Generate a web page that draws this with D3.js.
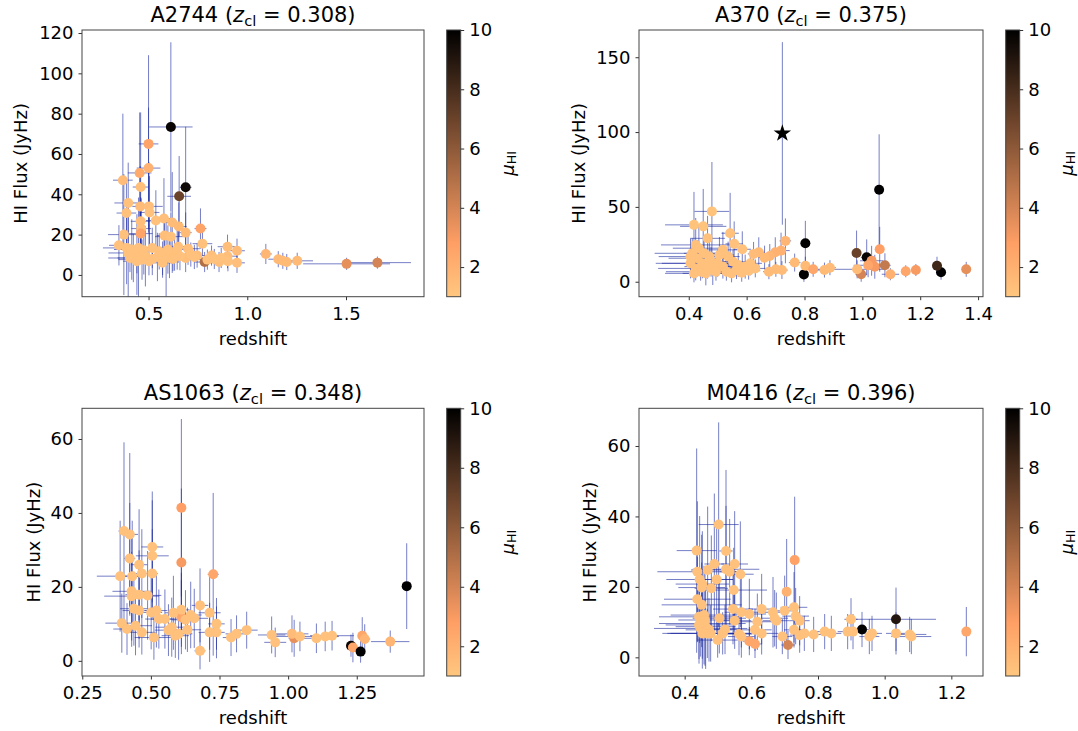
<!DOCTYPE html>
<html><head><meta charset="utf-8">
<script src="https://cdn.jsdelivr.net/npm/d3@7"></script>
<style>body{margin:0;background:#fff}svg{display:block}text{font-family:"DejaVu Sans",sans-serif;fill:#000}</style>
</head><body><svg id="c" width="1078" height="731"></svg>
<script>
const clusters = ["A2744", "A370", "AS1063", "M0416"];
const zCluster = ["0.308", "0.375", "0.348", "0.396"];
const xTicks = [[0.5, 1.0, 1.5], [0.4, 0.6, 0.8, 1.0, 1.2, 1.4], [0.25, 0.5, 0.75, 1.0, 1.25], [0.4, 0.6, 0.8, 1.0, 1.2]];
const xTickFormat = [".1f", ".1f", ".2f", ".1f"];
const yTicks = [[0, 20, 40, 60, 80, 100, 120], [0, 50, 100, 150], [0, 20, 40, 60], [0, 20, 40, 60]];
const xDomains = [[0.163, 1.895], [0.228, 1.417], [0.249, 1.495], [0.263, 1.295]];
const yDomains = [[-10.8, 121.5], [-10.0, 168.2], [-4.1, 68.3], [-5.3, 70.7]];
const muTicks = [2, 4, 6, 8, 10];
const muRange = [1, 10];
const xLabel = "redshift";
const yLabel = "HI Flux (JyHz)";

// rows: [redshift, flux, redshiftErr, fluxErr, mu_HI]
const a2744 = [
[0.613,73.4,0.11,42,9.8],[0.688,43.5,0.03,30,9.6],[0.655,39,0.06,20,7.0],[0.500,65,0.05,44,2.6],
[0.500,53,0.06,30,2.0],[0.455,50.6,0.06,30,2.3],[0.370,47,0.05,33,1.5],[0.460,43.6,0.04,37,1.4],
[0.397,35.7,0.07,20,1.3],[0.388,30.7,0.05,15,1.3],[0.458,34,0.04,20,1.5],[0.502,34,0.07,22,1.4],
[0.505,31,0.05,18,1.3],[0.537,27,0.05,15,1.3],[0.578,28,0.04,20,1.4],[0.620,26,0.05,25,1.5],
[0.653,24,0.04,12,1.6],[0.688,21,0.03,10,1.6],[0.763,23,0.03,10,2.6],[0.460,26.6,0.05,12,1.4],
[0.463,23,0.05,15,1.4],[0.375,20,0.08,30,1.3],[0.460,20.5,0.06,12,2.6],[0.350,14.7,0.05,10,1.3],
[0.581,19.5,0.04,10,1.4],[0.613,19,0.08,12,1.3],[0.650,14,0.05,8,1.4],[0.700,13,0.06,8,1.4],
[0.773,15.5,0.05,6,1.3],[0.900,14,0.05,6,1.4],[0.948,12,0.04,6,1.5],[1.094,10.4,0.03,5,1.8],
[1.157,7.8,0.05,4,1.6],[1.180,7,0.04,4,1.6],[1.200,6.4,0.03,4,1.6],[1.253,7,0.08,4,1.6],
[1.503,5.5,0.22,3,3.5],[1.659,6.1,0.17,3,4.0],[0.784,6.4,0.05,5,5.0],[0.819,9.6,0.04,5,1.4],
[0.857,6.4,0.04,5,1.4],[0.900,9.3,0.05,6,1.4],[0.948,6.0,0.04,5,1.4],[0.746,9.6,0.06,6,1.4],
[0.688,8.4,0.06,7,1.4],[0.397,10.9,0.1,25,1.3],[0.423,8.4,0.08,12,1.3],[0.441,10.1,0.06,20,1.3],
[0.467,7.6,0.12,10,1.3],[0.484,9.3,0.05,15,1.3],[0.519,7.9,0.07,8,1.3],[0.545,8.9,0.05,12,1.3],
[0.571,7.6,0.06,9,1.3],[0.589,9.3,0.04,20,1.3],[0.606,8.4,0.05,10,1.3],[0.632,10.1,0.06,8,1.3],
[0.645,12.6,0.04,10,1.3],[0.659,9.3,0.05,7,1.3],[0.389,13.4,0.12,18,1.3],[0.415,12.6,0.09,15,1.3],
[0.449,13.4,0.05,25,1.3],[0.476,12.2,0.08,12,1.3],[0.519,13.4,0.06,10,1.3],[0.554,11.7,0.05,9,1.3],
[0.598,12.6,0.05,12,1.3],[0.406,8.4,0.11,7,1.3],[0.441,6.8,0.07,6,1.3],[0.502,6.8,0.1,7,1.3],
[0.571,6.0,0.06,6,1.3],[0.624,7.9,0.05,6,1.3],[0.714,10.1,0.05,6,1.3],[0.732,8.9,0.04,6,1.3],
[0.798,7.6,0.05,5,1.3],[0.833,7.9,0.04,5,1.3],[0.868,8.4,0.04,5,1.3],[0.902,6.8,0.05,5,1.3]
];
const a370 = [
[1.058,61.5,0.005,37,10],[0.803,25.7,0.005,15,10],[0.798,4.9,0.005,5,10],[1.015,16.3,0.02,12,9.8],
[1.272,6.3,0.01,5,10],[1.258,10.7,0.01,6,8.2],[0.980,19.2,0.01,15,7.0],[1.060,21.7,0.005,15,2.8],
[1.078,11,0.02,8,4.5],[0.996,5,0.02,5,4.0],[1.032,14,0.04,10,3.0],[1.043,10,0.03,8,3.0],
[1.097,5,0.03,4,2.0],[1.150,7,0.01,4,2.5],[1.185,7.8,0.01,4,3.0],[1.359,8.3,0.005,5,3.5],
[0.982,8.3,0.1,6,1.5],[1.020,11,0.05,8,2.5],[0.766,12.8,0.02,6,1.6],[0.803,10.7,0.01,6,1.6],
[0.830,8.3,0.03,5,2.5],[0.869,7.8,0.03,5,1.6],[0.888,9.4,0.02,5,1.5],[0.734,27.3,0.02,15,1.8],
[0.719,20.8,0.03,12,2.0],[0.699,19.7,0.02,10,2.0],[0.680,17.2,0.02,8,1.8],[0.662,16.1,0.02,8,1.6],
[0.642,19.7,0.02,10,1.6],[0.624,18.6,0.02,8,1.5],[0.677,6.7,0.02,5,1.5],[0.701,8.3,0.02,5,1.5],
[0.722,7.8,0.02,6,1.5],[0.480,47,0.06,33,1.2],[0.418,38,0.1,22,1.2],[0.450,37,0.08,25,1.2],
[0.543,32.4,0.03,27,1.3],[0.557,25.3,0.03,15,1.3],[0.585,21.7,0.03,12,1.3],[0.518,21.3,0.05,12,1.3],
[0.465,29,0.06,15,1.3],[0.424,24.6,0.12,18,1.3],[0.412,19,0.13,10,1.3],[0.430,15.7,0.1,12,1.3],
[0.447,12.3,0.14,10,1.3],[0.465,10.1,0.08,8,1.3],[0.483,7.8,0.05,10,1.3],[0.500,12.3,0.06,9,1.3],
[0.518,10.1,0.05,8,1.3],[0.536,16.8,0.04,10,1.3],[0.553,13.4,0.05,8,1.3],[0.571,11.2,0.04,8,1.3],
[0.595,10.1,0.05,8,1.3],[0.613,12.3,0.04,8,1.3],[0.630,8.9,0.04,6,1.3],[0.424,8.9,0.13,8,1.3],
[0.441,6.7,0.12,6,1.3],[0.459,5.6,0.08,8,1.3],[0.477,13.4,0.07,10,1.3],[0.494,6.7,0.06,6,1.3],
[0.530,6.7,0.05,6,1.3],[0.548,5.6,0.04,6,1.3],[0.565,7.8,0.05,6,1.3],[0.583,6.0,0.04,6,1.3],
[0.607,7.4,0.04,6,1.3],[0.406,12.3,0.12,10,1.3],[0.418,5.6,0.1,6,1.3],[0.435,22.4,0.09,15,1.3],
[0.453,19.0,0.07,12,1.3],[0.471,16.8,0.06,10,1.3],[0.506,17.9,0.05,12,1.3],[0.406,16.8,0.11,12,1.3]
];
const a370Star = [[0.7235, 99.1, 0, 61, 10]];
const as1063 = [
[1.229,4.1,0.01,3,9.8],[1.236,3.6,0.01,4,2.5],[1.264,2.5,0.01,3,10],[1.270,6.8,0.01,5,2.5],
[1.279,5.9,0.02,4,1.8],[1.372,5.2,0.07,3,1.8],[1.432,20.2,0.005,11.6,10],[0.611,41.4,0.005,24,2.8],
[0.611,26.6,0.005,20,3.0],[0.727,23.4,0.02,22,2.5],[0.611,11.8,0.01,10,2.5],[1.022,6.1,0.02,5,3.5],
[0.402,35.1,0.02,24,1.3],[0.423,34.2,0.03,22,1.3],[0.423,27.7,0.02,15,1.3],[0.388,22.9,0.085,15,1.3],
[0.432,22.9,0.03,15,1.3],[0.457,26,0.03,15,1.3],[0.467,23.6,0.03,12,1.3],[0.505,30.8,0.04,15,1.3],
[0.505,28.4,0.06,15,1.3],[0.505,23.6,0.02,12,1.3],[0.430,18.8,0.07,15,1.3],[0.457,17.9,0.05,12,1.3],
[0.488,17.7,0.05,12,1.3],[0.430,17.5,0.1,12,1.3],[0.438,14.1,0.05,10,1.3],[0.457,13.6,0.06,10,1.3],
[0.501,13.1,0.04,10,1.3],[0.520,13.6,0.04,10,1.3],[0.582,13.0,0.03,10,1.3],[0.611,13.8,0.03,10,1.3],
[0.679,15.0,0.03,10,1.3],[0.714,13.0,0.04,10,1.3],[0.645,12.4,0.04,9,1.3],[0.658,11.5,0.05,8,1.3],
[0.529,11.3,0.05,8,1.3],[0.551,11.3,0.05,8,1.3],[0.626,11.1,0.05,8,1.3],[0.739,10.0,0.03,7,1.3],
[0.394,10.2,0.06,8,1.3],[0.413,8.6,0.05,7,1.3],[0.444,9.5,0.06,8,1.3],[0.467,7.7,0.05,6,1.3],
[0.511,6.3,0.07,6,1.3],[0.564,8.3,0.05,7,1.3],[0.589,6.8,0.05,6,1.3],[0.633,8.4,0.05,6,1.3],
[0.679,2.7,0.02,5,1.3],[0.714,7.7,0.04,8,1.3],[0.739,7.7,0.03,7,1.3],[0.792,6.3,0.03,5,1.3],
[0.812,7.3,0.04,5,1.3],[0.849,8.3,0.04,5,1.3],[0.940,7.0,0.05,5,1.3],[0.953,5.0,0.04,4,1.3],
[1.014,7.3,0.06,5,1.5],[1.043,6.6,0.1,4,1.3],[1.103,6.1,0.05,4,1.3],[1.135,6.6,0.05,4,1.3],
[1.160,6.8,0.08,4,1.3],[0.576,9.1,0.06,8,1.3],[0.601,7.3,0.05,7,1.3]
];
const m0416 = [
[0.932,7.9,0.02,5,10],[1.034,10.8,0.12,9,9.0],[1.245,7.3,0.005,7,2.5],[0.730,27.6,0.005,18,2.7],
[0.706,18.6,0.01,15,2.0],[0.710,3.5,0.02,4,4.0],[0.594,4.6,0.02,4,2.5],[0.611,3.8,0.02,4,2.5],
[0.502,37.7,0.06,29,1.3],[0.436,30.3,0.06,29,1.3],[0.524,30.2,0.02,23,1.3],[0.489,26.5,0.03,20,1.3],
[0.550,26.5,0.04,15,1.3],[0.469,24.8,0.05,18,1.3],[0.524,25.0,0.1,18,1.3],[0.535,24.3,0.03,15,1.3],
[0.567,23.6,0.04,15,1.3],[0.438,24.3,0.12,20,1.3],[0.445,22.1,0.1,18,1.3],[0.496,22.1,0.05,15,1.3],
[0.453,20.8,0.08,15,1.3],[0.480,19.6,0.05,15,1.3],[0.547,19.1,0.1,12,1.3],[0.451,19.8,0.07,15,1.3],
[0.438,16.5,0.1,12,1.3],[0.451,14.9,0.12,12,1.3],[0.545,13.7,0.06,10,1.3],[0.570,12.8,0.05,10,1.3],
[0.594,12.3,0.05,10,1.3],[0.631,13.7,0.04,10,1.3],[0.665,12.8,0.04,10,1.3],[0.700,13.2,0.04,10,1.3],
[0.728,14.2,0.04,10,1.3],[0.733,11.7,0.04,8,1.3],[0.745,10.4,0.03,7,1.3],[0.618,10.1,0.05,8,1.3],
[0.670,11.1,0.04,8,1.3],[0.675,10.4,0.04,8,1.3],[0.504,11.1,0.08,10,1.3],[0.550,10.4,0.05,8,1.3],
[0.899,10.8,0.02,6,1.3],[0.443,11.5,0.12,12,1.3],[0.458,12.0,0.1,14,1.3],[0.453,9.6,0.13,10,1.3],
[0.463,8.7,0.09,12,1.3],[0.473,7.8,0.07,9,1.3],[0.448,8.2,0.14,8,1.3],[0.468,6.8,0.11,7,1.3],
[0.453,6.8,0.12,10,1.3],[0.443,9.2,0.1,11,1.3],[0.478,6.8,0.13,8,1.3],[0.461,10.6,0.08,13,1.3],
[0.611,7.8,0.05,6,1.3],[0.631,6.8,0.05,6,1.3],[0.563,6.6,0.04,6,1.3],[0.570,5.9,0.04,6,1.3],
[0.521,7.9,0.05,7,1.3],[0.514,6.8,0.06,6,1.3],[0.499,4.9,0.06,5,1.3],[0.693,5.9,0.03,5,1.3],
[0.728,7.8,0.03,5,1.3],[0.745,6.3,0.03,5,1.3],[0.759,6.8,0.03,5,1.3],[0.787,6.5,0.03,5,1.3],
[0.820,7.3,0.03,5,1.3],[0.840,6.8,0.03,5,1.3],[0.889,7.3,0.03,5,1.3],[0.905,7.3,0.03,5,1.3],
[0.954,5.9,0.03,5,1.3],[0.962,6.8,0.03,5,1.3],[1.034,6.8,0.03,6,1.3],[1.075,6.5,0.05,5,1.3],
[1.080,5.9,0.06,5,1.3]
];
const panelData = [a2744, a370, as1063, m0416];
const panelStars = [[], a370Star, [], []];

// ---------- layout ----------
const boxes = [
  {x0: 82, x1: 424, y0: 30, y1: 296.7},
  {x0: 639, x1: 983, y0: 30, y1: 296.7},
  {x0: 82, x1: 424, y0: 408.3, y1: 676},
  {x0: 639, x1: 983, y0: 408.3, y1: 676}
];
const ylabelX = [20.7, 578, 33.6, 589];
const FS = 18, TFS = 21;
const ERR_COLOR = "#1a2aa0";

function copperR(mu) {
  let t = 1 - (mu - muRange[0]) / (muRange[1] - muRange[0]);
  t = Math.max(0, Math.min(1, t));
  return d3.rgb(255 * Math.min(1, 1.25 * t), 255 * 0.7812 * t, 255 * 0.4975 * t).toString();
}

const svg = d3.select("#c");
const defs = svg.append("defs");
const grad = defs.append("linearGradient").attr("id", "cmap").attr("x1", 0).attr("y1", 1).attr("x2", 0).attr("y2", 0);
d3.range(0, 41).forEach(i => {
  const mu = muRange[0] + (muRange[1] - muRange[0]) * i / 40;
  grad.append("stop").attr("offset", i / 40).attr("stop-color", copperR(mu));
});

clusters.forEach((name, i) => {
  const b = boxes[i];
  const x = d3.scaleLinear().domain(xDomains[i]).range([b.x0, b.x1]);
  const y = d3.scaleLinear().domain(yDomains[i]).range([b.y1, b.y0]);
  const g = svg.append("g");
  defs.append("clipPath").attr("id", "clip" + i).append("rect")
    .attr("x", b.x0).attr("y", b.y0).attr("width", b.x1 - b.x0).attr("height", b.y1 - b.y0);

  const plot = g.append("g").attr("clip-path", `url(#clip${i})`);
  const all = panelData[i].concat(panelStars[i]);
  const eb = plot.append("g").attr("stroke", ERR_COLOR).attr("stroke-opacity", 0.6).attr("stroke-width", 1);
  all.forEach(d => {
    if (d[2] > 0) eb.append("line").attr("x1", x(d[0] - d[2])).attr("x2", x(d[0] + d[2])).attr("y1", y(d[1])).attr("y2", y(d[1]));
    if (d[3] > 0) eb.append("line").attr("x1", x(d[0])).attr("x2", x(d[0])).attr("y1", y(d[1] - d[3])).attr("y2", y(d[1] + d[3]));
  });
  plot.append("g").selectAll("circle").data(panelData[i]).join("circle")
    .attr("cx", d => x(d[0])).attr("cy", d => y(d[1])).attr("r", 5)
    .attr("fill", d => copperR(d[4]));
  plot.append("g").selectAll("path").data(panelStars[i]).join("path")
    .attr("transform", d => `translate(${x(d[0])},${y(d[1])})`)
    .attr("d", d3.symbol(d3.symbolStar, 95)).attr("fill", "#000");

  // axes
  const xa = g.append("g").attr("transform", `translate(0,${b.y1})`)
    .call(d3.axisBottom(x).tickValues(xTicks[i]).tickFormat(d3.format(xTickFormat[i])).tickSize(3.5).tickPadding(7));
  const ya = g.append("g").attr("transform", `translate(${b.x0},0)`)
    .call(d3.axisLeft(y).tickValues(yTicks[i]).tickFormat(d3.format("d")).tickSize(3.5).tickPadding(5));
  [xa, ya].forEach(a => {
    a.select(".domain").remove();
    a.selectAll("line").attr("stroke", "#333");
    a.selectAll("text").attr("font-size", FS).attr("font-family", "DejaVu Sans").attr("fill", "#000");
  });
  g.append("rect").attr("x", b.x0).attr("y", b.y0).attr("width", b.x1 - b.x0).attr("height", b.y1 - b.y0)
    .attr("fill", "none").attr("stroke", "#444").attr("stroke-width", 1);

  // labels
  g.append("text").attr("x", (b.x0 + b.x1) / 2).attr("y", b.y1 + 48).attr("text-anchor", "middle")
    .attr("font-size", FS).text(xLabel);
  g.append("text").attr("transform", `translate(${ylabelX[i]},${(b.y0 + b.y1) / 2}) rotate(-90)`)
    .attr("text-anchor", "middle").attr("dominant-baseline", "central").attr("font-size", FS).text(yLabel);
  const t = g.append("text").attr("x", (b.x0 + b.x1) / 2).attr("y", b.y0 - 8).attr("text-anchor", "middle").attr("font-size", TFS);
  t.append("tspan").text(name + " (");
  t.append("tspan").attr("font-style", "italic").text("z");
  t.append("tspan").attr("font-size", TFS * 0.7).attr("dy", 4).text("cl");
  t.append("tspan").attr("dy", -4).text(" = " + zCluster[i] + ")");

  // colorbar
  const cx0 = b.x1 + 22.7, cw = 14;
  const cy = d3.scaleLinear().domain(muRange).range([b.y1, b.y0]);
  g.append("rect").attr("x", cx0).attr("y", b.y0).attr("width", cw).attr("height", b.y1 - b.y0)
    .attr("fill", "url(#cmap)").attr("stroke", "#444").attr("stroke-width", 1);
  const ca = g.append("g").attr("transform", `translate(${cx0 + cw},0)`)
    .call(d3.axisRight(cy).tickValues(muTicks).tickFormat(d3.format("d")).tickSize(3.5).tickPadding(5));
  ca.select(".domain").remove();
  ca.selectAll("line").attr("stroke", "#333");
  ca.selectAll("text").attr("font-size", FS).attr("font-family", "DejaVu Sans").attr("fill", "#000");
  const ml = g.append("text").attr("transform", `translate(${cx0 + 60},${(b.y0 + b.y1) / 2}) rotate(-90)`)
    .attr("text-anchor", "middle").attr("dominant-baseline", "central").attr("font-size", FS);
  ml.append("tspan").attr("font-style", "italic").text("μ");
  ml.append("tspan").attr("font-size", FS * 0.7).attr("dy", 4).text("HI");
});
</script></body></html>
